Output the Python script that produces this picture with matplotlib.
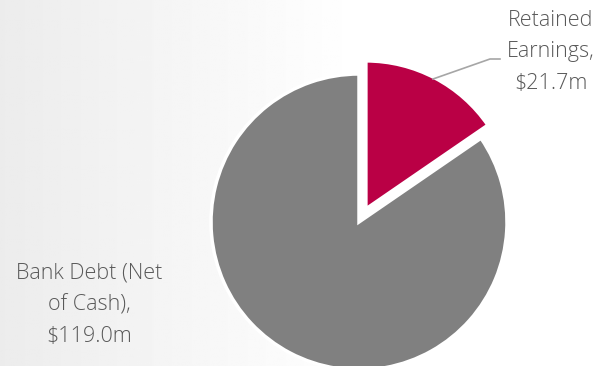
import numpy as np
import matplotlib
matplotlib.use("Agg")
from matplotlib import pyplot as plt

# data
labels = ["Retained\nEarnings,\n$21.7m", "Bank Debt (Net\nof Cash),\n$119.0m"]
values = [21.7, 119.0]
colors = ["#BA0045", "#808080"]
explode = [0.1, 0]

W, H = 598, 366
cx, cy, r = 359, 222, 148   # pie centre / radius in pixels (from top)

plt.rcParams['font.family'] = 'Open Sans'

fig = plt.figure(figsize=(W / 100, H / 100), dpi=100)

# background gradient, grey at left fading to white
bg = fig.add_axes([0, 0, 1, 1], zorder=0)
xs = np.linspace(0, 1, 300)
g = np.clip(0.925 + 0.075 * xs / 0.6, 0, 1)
img = np.tile(g, (10, 1))
bg.imshow(img, cmap="gray", vmin=0, vmax=1, aspect="auto", extent=[0, 1, 0, 1])
bg.axis("off")

ax = fig.add_axes([0, 0, 1, 1], zorder=1)
ax.patch.set_alpha(0)
ax.pie(values, colors=colors, explode=explode, startangle=90, counterclock=False,
       radius=1, wedgeprops=dict(edgecolor="white", linewidth=2.5))
ax.set_xlim(-cx / r, (W - cx) / r)
ax.set_ylim(-(H - cy) / r, cy / r)
ax.set_aspect("auto")
ax.axis("off")


def px(x, y):
    return (x - cx) / r, (cy - y) / r


def label(x, y, s):
    # one text per line so every line is centred
    lines = s.split("\n")
    for i, line in enumerate(lines):
        ax.text(*px(x, y + (i - (len(lines) - 1) / 2) * 31.5), line,
                fontsize=15.5, color="#595959", ha="center", va="center",
                fontweight="light")


# label for retained earnings with leader line
ax.plot(*zip(px(433, 79), px(490, 59), px(500, 59)), color="#a6a6a6", lw=1.2)
label(551, 52, labels[0])
label(89, 305, labels[1])

fig.savefig("out.png", dpi=100)
